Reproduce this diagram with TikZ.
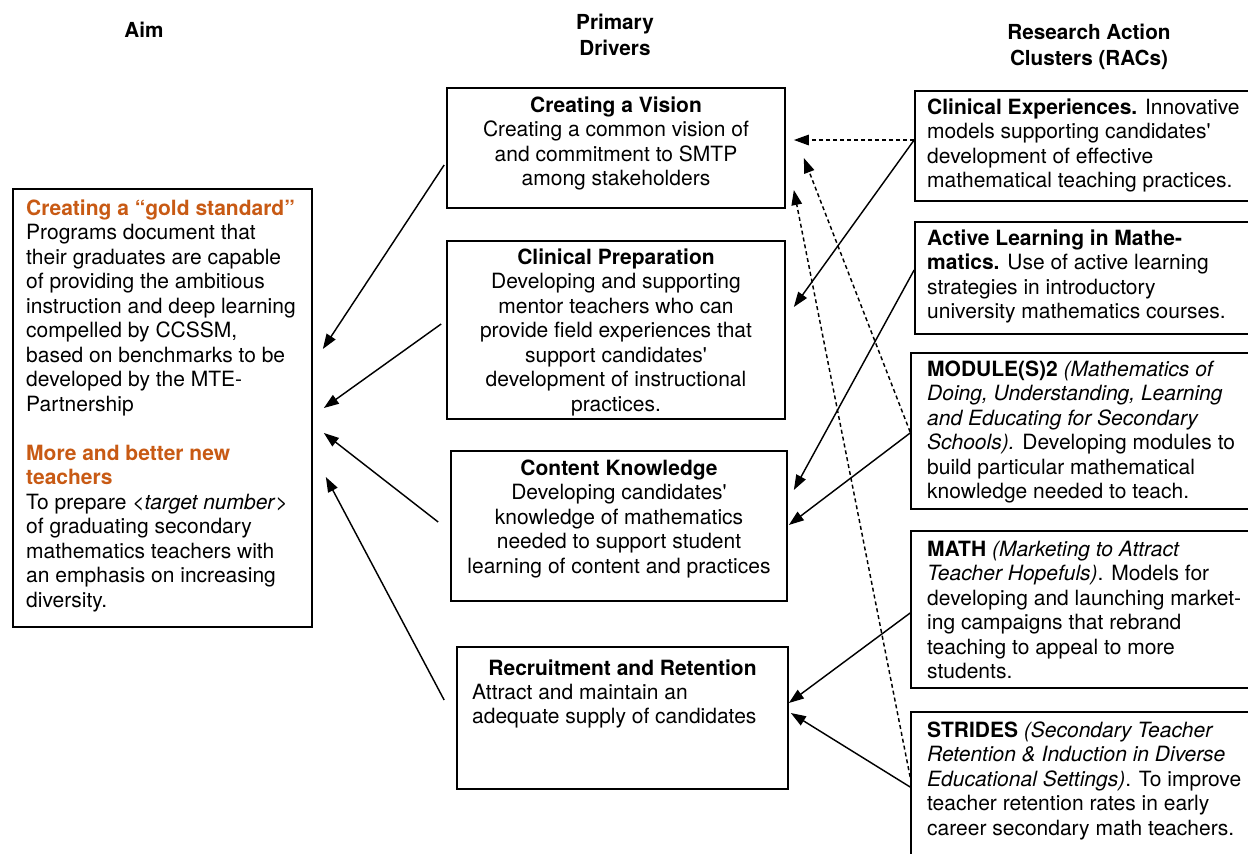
\documentclass[tikz,border=0pt]{standalone}
\usepackage{fontspec}
\setmainfont{TeX Gyre Heros}[Ligatures=TeXOff]
\usetikzlibrary{calc,arrows.meta}
\definecolor{orng}{RGB}{200,90,20}
\newcommand\bodyfont{\fontsize{21pt}{24.5pt}\selectfont}
\newcommand\headfont{\fontsize{20.7pt}{26pt}\selectfont\bfseries}
\tikzset{
  box/.style={draw, line width=1.7pt, rectangle, inner sep=0pt},
  txt/.style={inner sep=0pt, font=\bodyfont},
  hdr/.style={inner sep=0pt, font=\headfont, align=center},
  arr/.style={line width=1.45pt, -{Triangle[length=15pt,width=10.5pt]}},
  dsh/.style={arr, dash pattern=on 4pt off 3pt},
}
\begin{document}
\begin{tikzpicture}[x=1pt,y=-1pt]
\useasboundingbox (0,0) rectangle (1248,854);
% headers (anchor=base is the baseline of the last line)
\node[hdr, anchor=base] (haim) at (144,37) {Aim};
\node[hdr, anchor=base] (hpd) at (615,55) {Primary\\Drivers};
\node[hdr, anchor=base] (hrac) at (1089,65) {Research Action\\Clusters (RACs)};
% aim box
\node[box, minimum width=299pt, minimum height=438pt] (aim) at (162.5,408) {};
\node[txt, anchor=base west, align=left] (aimt) at (26,607) {%
{\color{orng}\bfseries Creating a “gold standard”}\\
Programs document that\\
their graduates are capable\\
of providing the ambitious\\
instruction and deep learning\\
compelled by CCSSM,\\
based on benchmarks to be\\
developed by the MTE-\\
Partnership\\[24.5pt]
{\color{orng}\bfseries More and better new}\\
{\color{orng}\bfseries teachers}\\
To prepare <\textit{target number}>\\
of graduating secondary\\
mathematics teachers with\\
an emphasis on increasing\\
diversity.};
% primary drivers
\node[box, minimum width=338pt, minimum height=120pt] (vision) at (616,148) {};
\node[txt, anchor=base, align=center] (visiont) at (616,185.5) {%
\textbf{Creating a Vision}\\
Creating a common vision of\\
and commitment to SMTP\\
among stakeholders};
\node[box, minimum width=338pt, minimum height=178pt] (clinprep) at (616,330) {};
\node[txt, anchor=base, align=center] (clinprept) at (616,411) {%
\textbf{Clinical Preparation}\\
Developing and supporting\\
mentor teachers who can\\
provide field experiences that\\
support candidates'\\
development of instructional\\
practices.};
\node[box, minimum width=336pt, minimum height=150pt] (content) at (619,526) {};
\node[txt, anchor=base, align=center] (contentt) at (619,573) {%
\textbf{Content Knowledge}\\
Developing candidates'\\
knowledge of mathematics\\
needed to support student\\
learning of content and practices};
\node[box, minimum width=331pt, minimum height=142pt] (recruit) at (622.5,718) {};
\node[txt, anchor=base] (recruitt) at (622.5,675) {\textbf{Recruitment and Retention}};
\node[txt, anchor=base west, align=left] (recruitb) at (472,723.5) {%
Attract and maintain an\\
adequate supply of candidates};
% RAC boxes
\node[box, minimum width=347pt, minimum height=110pt] (clinexp) at (1088.5,146) {};
\node[txt, anchor=base west, align=left] (clinexpt) at (927,187.5) {%
\textbf{Clinical Experiences.} Innovative\\
models supporting candidates'\\
development of effective\\
mathematical teaching practices.};
\node[box, minimum width=347pt, minimum height=112pt] (active) at (1088.5,278) {};
\node[txt, anchor=base west, align=left] (activet) at (927,318.5) {%
\textbf{Active Learning in Mathe-}\\
\textbf{matics.} Use of active learning\\
strategies in introductory\\
university mathematics courses.};
\node[box, minimum width=351pt, minimum height=156pt] (module) at (1086.5,431) {};
\node[txt, anchor=base west, align=left] (modulet) at (927,498.5) {%
\textbf{MODULE(S)2} \textit{(Mathematics of}\\
\textit{Doing, Understanding, Learning}\\
\textit{and Educating for Secondary}\\
\textit{Schools).} Developing modules to\\
build particular mathematical\\
knowledge needed to teach.};
\node[box, minimum width=351pt, minimum height=157pt] (math) at (1086.5,609.5) {};
\node[txt, anchor=base west, align=left] (matht) at (927,678.5) {%
\textbf{MATH} \textit{(Marketing to Attract}\\
\textit{Teacher Hopefuls)}. Models for\\
developing and launching market-\\
ing campaigns that rebrand\\
teaching to appeal to more\\
students.};
\node[box, minimum width=351pt, minimum height=158pt] (strides) at (1086.5,791) {};
\node[txt, anchor=base west, align=left] (stridest) at (927,835) {%
\textbf{STRIDES} \textit{(Secondary Teacher}\\
\textit{Retention \& Induction in Diverse}\\
\textit{Educational Settings)}. To improve\\
teacher retention rates in early\\
career secondary math teachers.};
% primary drivers -> aim
\draw[arr] ($(vision.west)+(-2,17)$) -- ($(aim.east)+(10,-59)$);
\draw[arr] ($(clinprep.west)+(-5,-6)$) -- ($(aim.east)+(11,0)$);
\draw[arr] ($(content.west)+(-12,-4)$) -- ($(aim.east)+(11,25)$);
\draw[arr] ($(recruit.west)+(-12,-18)$) -- ($(aim.east)+(13,69)$);
% RACs -> primary drivers
\draw[dsh] ($(clinexp.west)+(0,-6)$) -- ($(vision.east)+(8,-8)$);
\draw[arr] ($(clinexp.west)+(0,-6)$) -- ($(clinprep.east)+(8,-23)$);
\draw[arr] ($(active.west)+(0,-8)$) -- ($(content.east)+(6,-36)$);
\draw[arr] ($(module.west)+(0,2)$) -- ($(content.east)+(1,-1)$);
\draw[dsh] ($(module.west)+(0,1)$) -- ($(vision.east)+(18,10)$);
\draw[dsh] ($(strides.west)+(0,-14)$) -- ($(vision.east)+(8,42)$);
\draw[arr] ($(math.west)+(0,3.5)$) -- ($(recruit.east)+(0,-15)$);
\draw[arr] ($(strides.west)+(0,-4)$) -- ($(recruit.east)+(2,-5)$);
\end{tikzpicture}
\end{document}
